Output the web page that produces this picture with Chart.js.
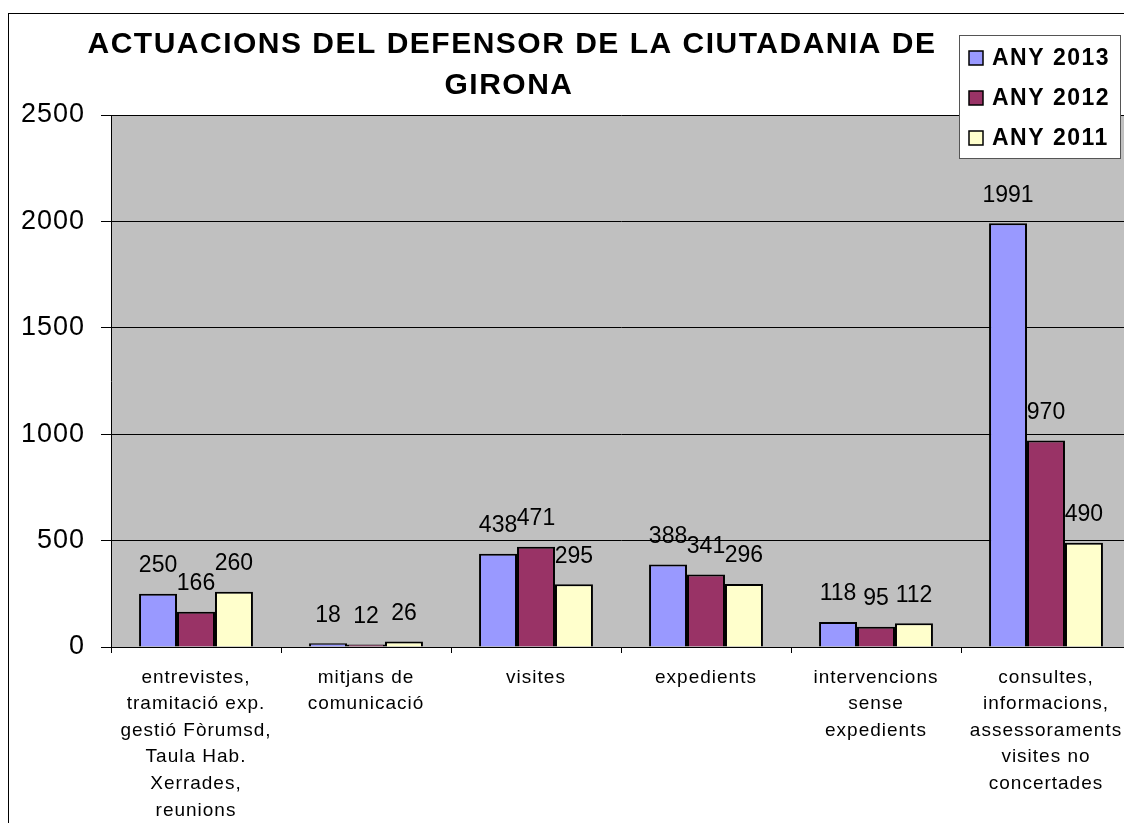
<!DOCTYPE html>
<html>
<head>
<meta charset="utf-8">
<script src="https://cdn.jsdelivr.net/npm/chart.js@4/dist/chart.umd.min.js"></script>
<style>
  html, body { margin: 0; padding: 0; background: #fff; overflow: hidden; }
  #wrap { position: absolute; left: 0; top: 0; width: 1140px; height: 823px; }
</style>
</head>
<body>
<div id="wrap"><canvas id="chart"></canvas></div>
<script>
const categories = [
  ['entrevistes,', 'tramitació exp.', 'gestió Fòrumsd,', 'Taula Hab.', 'Xerrades,', 'reunions'],
  ['mitjans de', 'comunicació'],
  ['visites'],
  ['expedients'],
  ['intervencions', 'sense', 'expedients'],
  ['consultes,', 'informacions,', 'assessoraments', 'visites no', 'concertades']
];
const any2013 = [250, 18, 438, 388, 118, 1991];
const any2012 = [166, 12, 471, 341, 95, 970];
const any2011 = [260, 26, 295, 296, 112, 490];
const seriesNames = ['ANY 2013', 'ANY 2012', 'ANY 2011'];
const titleLines = ['ACTUACIONS DEL DEFENSOR DE LA CIUTADANIA DE', 'GIRONA'];

const FONT = '"Liberation Sans", Arial, sans-serif';

// gray plot background, outer frame; a bit of letter spacing like the old Excel render
const decorPlugin = {
  id: 'decor',
  beforeDraw(chart) {
    const { ctx, chartArea: a } = chart;
    ctx.save();
    ctx.fillStyle = '#c0c0c0';
    ctx.fillRect(a.left, a.top, a.right - a.left, a.bottom - a.top);
    ctx.strokeStyle = '#000';
    ctx.lineWidth = 1;
    ctx.strokeRect(8.5, 13.5, 1200, 900);
    ctx.restore();
    ctx.letterSpacing = '1px';
  },
  afterDraw(chart) {
    const { ctx } = chart;
    ctx.save();
    // title
    ctx.fillStyle = '#000';
    ctx.font = 'bold 30px ' + FONT;
    ctx.letterSpacing = '1.5px';
    ctx.textAlign = 'center';
    ctx.textBaseline = 'middle';
    ctx.fillText(titleLines[0], 512, 45);
    ctx.fillText(titleLines[1], 509, 86);

    // legend
    ctx.fillStyle = '#fff';
    ctx.fillRect(959, 35, 161, 123);
    ctx.strokeStyle = '#555';
    ctx.lineWidth = 1;
    ctx.strokeRect(959.5, 35.5, 161, 123);
    ctx.font = 'bold 23px ' + FONT;
    ctx.letterSpacing = '1.5px';
    ctx.textAlign = 'left';
    chart.data.datasets.forEach((ds, i) => {
      const y = 58 + i * 40;
      ctx.fillStyle = ds.backgroundColor;
      ctx.fillRect(969, y - 7, 14, 14);
      ctx.strokeStyle = '#000';
      ctx.lineWidth = 1.5;
      ctx.strokeRect(969, y - 7, 14, 14);
      ctx.fillStyle = '#000';
      ctx.fillText(ds.label, 992, y + 1);
    });
    ctx.restore();
  }
};

// value labels above each bar
const valueLabels = {
  id: 'valueLabels',
  afterDatasetsDraw(chart) {
    const { ctx } = chart;
    ctx.save();
    ctx.fillStyle = '#000';
    ctx.font = '23px ' + FONT;
    ctx.letterSpacing = '0px';
    ctx.textAlign = 'center';
    ctx.textBaseline = 'middle';
    chart.data.datasets.forEach((ds, i) => {
      chart.getDatasetMeta(i).data.forEach((bar, j) => {
        ctx.fillText(String(ds.data[j]), bar.x, bar.y - 28);
      });
    });
    ctx.restore();
  }
};

new Chart(document.getElementById('chart'), {
  type: 'bar',
  data: {
    labels: categories,
    datasets: [
      { label: seriesNames[0], data: any2013, backgroundColor: '#9999ff' },
      { label: seriesNames[1], data: any2012, backgroundColor: '#993366' },
      { label: seriesNames[2], data: any2011, backgroundColor: '#ffffcc' }
    ]
  },
  options: {
    responsive: true,
    maintainAspectRatio: false,
    animation: false,
    layout: { padding: { left: 0, top: 115, right: 9, bottom: 0 } },
    datasets: {
      bar: {
        borderColor: '#000',
        borderWidth: 2,
        categoryPercentage: 0.67,
        barPercentage: 1.0
      }
    },
    plugins: {
      legend: { display: false },
      title: { display: false },
      tooltip: { enabled: false }
    },
    scales: {
      y: {
        min: 0,
        max: 2500,
        ticks: {
          stepSize: 500,
          color: '#000',
          font: { family: FONT, size: 27 },
          padding: 16,
          callback: v => String(v)
        },
        grid: { color: '#000', lineWidth: 1, tickLength: 10 },
        border: { color: '#000', width: 1 },
        afterFit(scale) { scale.width = 111; }
      },
      x: {
        ticks: {
          color: '#000',
          font: { family: FONT, size: 19, lineHeight: 1.4 },
          padding: 11,
          maxRotation: 0,
          autoSkip: false
        },
        grid: { offset: true, drawOnChartArea: false, color: '#000', tickLength: 6 },
        border: { color: '#000', width: 1 },
        afterFit(scale) { scale.height = 176; }
      }
    }
  },
  plugins: [decorPlugin, valueLabels]
});
</script>
</body>
</html>
